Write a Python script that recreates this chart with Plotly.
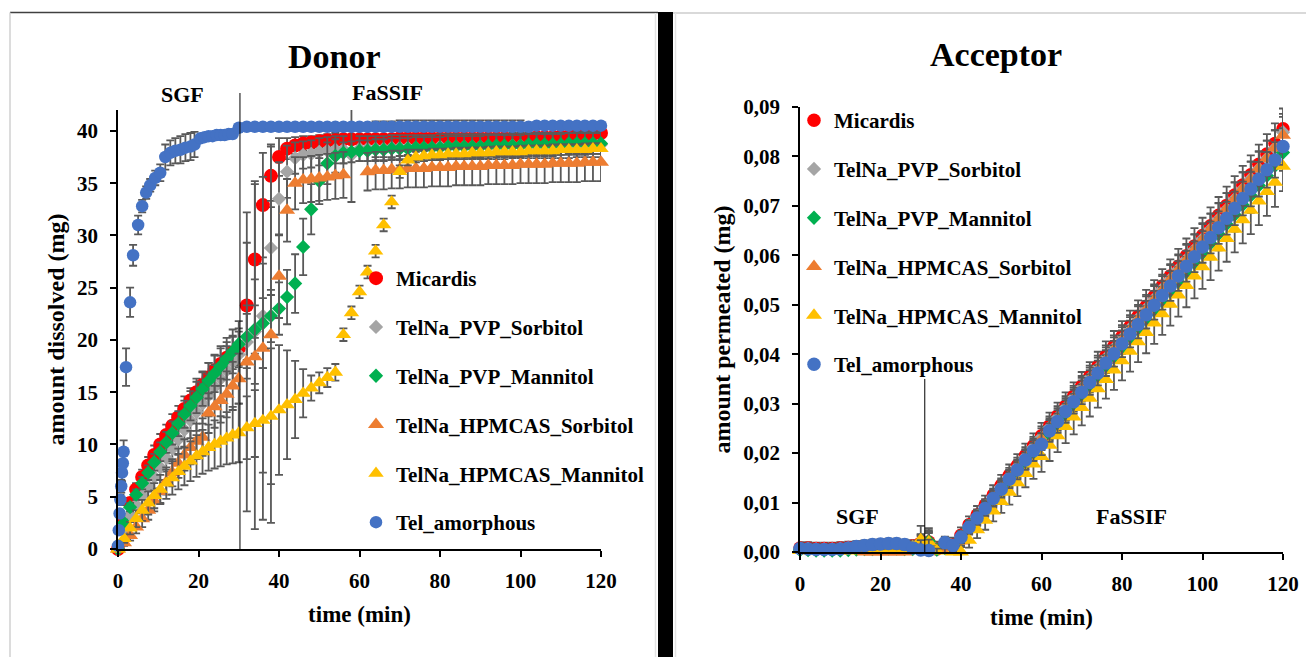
import plotly.graph_objects as go

W, H = 1306, 657

# ---------------- DONOR DATA (amount dissolved, mg) ----------------
t_early = [0, 1.5, 3, 4.5, 6, 7.5, 9, 10.5, 12, 13.5, 15, 16.5, 18, 19.5, 21, 22.5, 24, 25.5, 27, 28.5, 30]
t_late = [32, 34, 36, 38, 40, 42, 44, 46, 48, 50, 52, 54, 56, 58, 60, 62, 64, 66, 68, 70,
          72, 74, 76, 78, 80, 82, 84, 86, 88, 90, 92, 94, 96, 98, 100, 102, 104, 106, 108, 110,
          112, 114, 116, 118, 120]

red_e = [0, 2.7, 4.4, 5.7, 6.9, 8.0, 9.0, 10.0, 10.9, 11.8, 12.6, 13.4, 14.2, 15.0, 15.7, 16.4, 17.1, 17.7, 18.3, 18.8, 19.2]
red_late = [23.3, 27.7, 32.9, 35.7, 37.5, 38.3, 38.6, 38.8, 38.9, 39.0,
            39.1, 39.1, 39.2, 39.2, 39.2, 39.2, 39.2, 39.2, 39.2, 39.3,
            39.3, 39.3, 39.3, 39.3, 39.3, 39.3, 39.3, 39.3, 39.3, 39.3,
            39.3, 39.3, 39.3, 39.3, 39.3, 39.3, 39.4, 39.4, 39.4, 39.5,
            39.5, 39.6, 39.6, 39.7, 39.8]
red_err_e = [0, 0.3, 0.5, 0.6, 0.7, 0.8, 0.9, 1.0, 1.0, 1.1, 1.1, 1.2, 1.2, 1.3, 1.3, 1.4, 1.4, 1.5, 1.5, 1.6, 1.6]
red_err_late = [6.0, 7.5, 5.0, 3.0, 1.8, 1.0, 0.8, 0.7, 0.6, 0.6,
                0.6, 0.7, 0.8, 0.9, 1.0, 1.2, 1.7, 1.7, 1.7, 1.7,
                1.7, 1.7, 1.7, 1.7, 1.7, 1.7, 1.7, 1.7, 1.7, 1.7,
                1.7, 1.7, 1.7, 1.7, 1.7, 1.2, 1.0, 1.0, 1.0, 0.9,
                0.9, 0.8, 0.8, 0.7, 0.7]

gray_e = [0, 2.0, 3.2, 4.2, 5.1, 6.0, 6.9, 7.8, 8.7, 9.6, 10.5, 11.4, 12.3, 13.1, 13.9, 14.7, 15.5, 16.3, 17.1, 17.9, 18.6]
gray_late = [19.8, 20.8, 22.3, 28.8, 33.5, 36.1, 37.4, 37.7, 37.8, 38.0,
             38.1, 38.2, 38.2, 37.7, 38.3, 38.3, 38.3, 38.3, 38.4, 38.4,
             38.4, 38.4, 38.4, 38.4, 38.5, 38.5, 38.5, 38.5, 38.5, 38.5,
             38.5, 38.5, 38.5, 38.6, 38.6, 38.6, 38.6, 38.6, 38.6, 38.6,
             38.6, 38.7, 38.7, 38.7, 38.7]
gray_err_e = [0, 0.4, 0.6, 0.8, 0.9, 1.0, 1.1, 1.2, 1.3, 1.4, 1.5, 1.6, 1.7, 1.8, 1.9, 2.0, 2.1, 2.2, 2.3, 2.4, 2.5]
gray_err_late = [3.5, 5.0, 5.0, 4.5, 3.5, 2.5, 1.5, 1.3, 1.3, 1.3,
                 1.3, 1.3, 1.3, 4.5, 1.2, 1.2, 1.2, 1.2, 1.2, 1.2,
                 1.2, 1.2, 1.2, 1.2, 1.2, 1.2, 1.2, 1.2, 1.2, 1.2,
                 1.2, 1.2, 1.2, 1.2, 1.2, 1.2, 1.2, 1.2, 1.2, 1.2,
                 1.2, 1.2, 1.2, 1.2, 1.2]

green_e = [0, 2.5, 4.0, 5.2, 6.3, 7.3, 8.3, 9.3, 10.2, 11.1, 12.0, 12.9, 13.7, 14.5, 15.3, 16.1, 16.8, 17.5, 18.2, 18.9, 19.6]
green_late = [20.3, 21.0, 21.6, 22.3, 23.0, 24.1, 25.4, 28.9, 32.5, 35.2,
              36.9, 37.6, 37.9, 38.0, 38.1, 38.1, 38.2, 38.2, 38.3, 38.3,
              38.3, 38.4, 38.4, 38.4, 38.4, 38.5, 38.5, 38.5, 38.5, 38.5,
              38.6, 38.6, 38.6, 38.6, 38.6, 38.7, 38.7, 38.7, 38.7, 38.7,
              38.8, 38.8, 38.8, 38.8, 38.8]
green_err_e = [0, 0.3, 0.4, 0.5, 0.6, 0.7, 0.8, 0.9, 1.0, 1.1, 1.2, 1.3, 1.4, 1.5, 1.6, 1.7, 1.8, 1.9, 2.0, 2.1, 2.2]
green_err_late = [2.2, 2.3, 2.4, 2.5, 2.5, 2.6, 2.8, 2.7, 2.4, 2.2,
                  2.0, 1.6, 1.0, 1.0, 1.0, 1.0, 1.0, 1.0, 1.0, 1.0,
                  1.0, 1.0, 1.0, 1.0, 1.0, 1.0, 1.0, 1.0, 1.0, 1.0,
                  1.0, 1.0, 1.0, 1.0, 1.0, 1.0, 1.0, 1.0, 1.0, 1.0,
                  1.0, 1.0, 1.0, 1.0, 1.0]

orange_e = [0, 0.6, 1.3, 2.1, 2.9, 3.7, 4.6, 5.5, 6.4, 7.3, 8.2, 9.0, 9.7, 10.3, 10.7, 13.0, 13.6, 14.2, 14.8, 15.6, 16.3]
orange_late = [17.9, 18.4, 19.2, 20.5, 26.1, 32.4, 35.0, 35.3, 35.4, 35.5,
               35.6, 35.7, 35.8, None, None, 36.1, 36.2, 36.2, 36.3, 36.3,
               36.4, 36.4, 36.4, 36.5, 36.5, 36.5, 36.6, 36.6, 36.6, 36.6,
               36.7, 36.7, 36.7, 36.7, 36.8, 36.8, 36.8, 36.8, 36.9, 36.9,
               36.9, 36.9, 37.0, 37.0, 37.0]
orange_err_e = [0, 0.3, 0.5, 0.6, 0.8, 0.9, 1.0, 1.1, 1.2, 1.3, 1.4, 1.5, 1.6, 1.7, 1.8, 1.9, 2.0, 2.1, 2.2, 2.3, 2.4]
orange_err_late = [14.3, 16.5, 16.4, 18.0, 4.0, 3.0, 2.5, 2.2, 2.2, 2.2,
                   2.2, 2.2, 2.2, None, None, 1.8, 1.8, 1.8, 1.8, 1.8,
                   1.8, 1.8, 1.8, 1.8, 1.8, 1.8, 1.8, 1.8, 1.8, 1.8,
                   1.8, 1.8, 1.8, 1.8, 1.8, 1.8, 1.8, 1.8, 1.8, 1.8,
                   1.8, 1.8, 1.8, 1.8, 1.8]

yellow_e = [0, 1.0, 2.0, 2.9, 3.7, 4.4, 5.1, 5.7, 6.3, 6.8, 7.4, 7.9, 8.4, 8.9, 9.3, 9.7, 10.0, 10.3, 10.6, 10.9, 11.1]
yellow_late = [11.6, 12.0, 12.3, 12.7, 13.3, 13.8, 14.3, 14.9, 15.4, 15.9,
               16.4, 16.9, 20.5, 22.6, 24.6, 26.5, 28.5, 31.0, 33.2, 36.1,
               37.2, 37.5, 37.6, 37.7, 37.7, 37.8, 37.8, 37.8, 37.9, 37.9,
               37.9, 38.0, 38.0, 38.0, 38.0, 38.1, 38.1, 38.1, 38.1, 38.2,
               38.2, 38.2, 38.2, 38.3, 38.3]
yellow_err_e = [0, 0.4, 0.6, 0.8, 1.0, 1.1, 1.2, 1.4, 1.5, 1.6, 1.7, 1.8, 1.9, 2.0, 2.1, 2.2, 2.3, 2.4, 2.5, 2.7, 2.8]
yellow_err_late = [3.0, 3.2, 5.0, 6.5, 6.2, 5.2, 3.7, 2.3, 1.2, 1.0,
                   0.9, 0.8, 0.6, 0.6, 0.6, 0.6, 0.6, 0.6, 0.6, 0.6,
                   0.5, 0.5, 0.5, 0.5, 0.5, 0.5, 0.5, 0.5, 0.5, 0.5,
                   0.5, 0.5, 0.5, 0.5, 0.5, 0.5, 0.5, 0.5, 0.5, 0.5,
                   0.5, 0.5, 0.5, 0.5, 0.5]

t_blue_early = [0, 0.2, 0.4, 0.6, 0.8, 1.0, 1.2, 1.4, 2, 3, 3.75, 5, 6, 7, 8, 9.25, 10.5, 11.75,
                13, 14.25, 15.5, 16.75, 18, 19, 20.5, 21.5, 22.5, 23.5, 24.5, 25.5, 26.5, 27.5, 28.5, 30]
blue_e = [0.3, 1.8, 3.4, 4.7, 6.0, 7.3, 8.2, 9.3, 17.4, 23.6, 28.1, 31.0, 32.8, 34.1, 34.8, 35.5, 36.0, 37.5,
          37.9, 38.1, 38.2, 38.4, 38.5, 38.7, 39.3, 39.4, 39.5, 39.5, 39.6, 39.6, 39.6, 39.7, 39.7, 40.3]
blue_late = [40.4, 40.4, 40.4, 40.4, 40.4, 40.4, 40.4, 40.4, 40.4, 40.4,
             40.4, 40.4, 40.4, 40.4, 40.4, 40.4, 40.4, 40.4, 40.4, 40.4,
             40.4, 40.4, 40.4, 40.4, 40.4, 40.4, 40.4, 40.4, 40.4, 40.4,
             40.4, 40.4, 40.4, 40.4, 40.4, 40.4, 40.5, 40.5, 40.5, 40.5,
             40.5, 40.5, 40.5, 40.5, 40.5]
blue_err_e = [0.2, 0.3, 0.4, 0.5, 0.6, 0.8, 0.9, 1.1, 1.8, 1.4, 1.0, 0.9, 0.6, 0.6, 0.6, 0.7, 0.8, 1.2,
              1.2, 1.2, 1.3, 1.3, 1.3, 1.2, 0.3, 0.3, 0.3, 0.3, 0.3, 0.3, 0.3, 0.3, 0.3, 0.3]
blue_err_late = [0.3, 0.3, 0.3, 0.3, 0.3, 0.3, 0.3, 0.3, 0.3, 0.3,
                 0.3, 0.3, 0.3, 0.3, 0.3, 0.3, 0.3, 0.3, 0.3, 0.3,
                 0.3, 0.3, 0.3, 0.3, 0.3, 0.3, 0.3, 0.3, 0.3, 0.3,
                 0.3, 0.3, 0.3, 0.3, 0.3, 0.3, 0.3, 0.3, 0.3, 0.3,
                 0.3, 0.3, 0.3, 0.3, 0.3]

# ---------------- ACCEPTOR DATA (amount permeated, mg) ----------------
acc_t = [0, 2, 4, 6, 8, 10, 12, 14, 16, 18, 20, 22, 24, 26, 28, 30, 32, 34, 36, 38,
         40, 42, 44, 46, 48, 50, 52, 54, 56, 58, 60, 62, 64, 66, 68, 70, 72, 74, 76, 78,
         80, 82, 84, 86, 88, 90, 92, 94, 96, 98, 100, 102, 104, 106, 108, 110, 112, 114, 116, 118, 120]

acc_red = [0.0008, 0.0008, 0.0007, 0.0007, 0.0007, 0.0008, 0.0009, 0.0010, 0.0011, 0.0012,
           0.0012, 0.0013, 0.0013, 0.0012, 0.0012, 0.0018, 0.0020, 0.0006, 0.0010, 0.0014,
           0.0034, 0.0055, 0.0075, 0.0095, 0.0115, 0.0135, 0.0155, 0.0175, 0.0195, 0.0215,
           0.0235, 0.0255, 0.0275, 0.0295, 0.0315, 0.0335, 0.0355, 0.0375, 0.0396, 0.0416,
           0.0436, 0.0456, 0.0477, 0.0497, 0.0517, 0.0538, 0.0558, 0.0578, 0.0599, 0.0619,
           0.0640, 0.0660, 0.0681, 0.0701, 0.0722, 0.0742, 0.0763, 0.0784, 0.0805, 0.0826,
           0.0856]
acc_gray = [0.0007, 0.0007, 0.0006, 0.0006, 0.0006, 0.0007, 0.0008, 0.0009, 0.0010, 0.0011,
            0.0011, 0.0012, 0.0012, 0.0011, 0.0011, 0.0016, 0.0019, 0.0005, 0.0009, 0.0012,
            0.0031, 0.0052, 0.0072, 0.0092, 0.0112, 0.0132, 0.0152, 0.0172, 0.0192, 0.0212,
            0.0232, 0.0252, 0.0272, 0.0292, 0.0312, 0.0332, 0.0352, 0.0372, 0.0392, 0.0412,
            0.0432, 0.0452, 0.0472, 0.0492, 0.0512, 0.0532, 0.0552, 0.0572, 0.0592, 0.0612,
            0.0633, 0.0653, 0.0673, 0.0693, 0.0714, 0.0734, 0.0755, 0.0775, 0.0796, 0.0817,
            0.0849]
acc_green = [0.0004, 0.0004, 0.0003, 0.0003, 0.0003, 0.0003, 0.0004, 0.0005, 0.0006, 0.0006,
             0.0007, 0.0007, 0.0007, 0.0006, 0.0006, 0.0015, 0.0022, 0.0005, 0.0008, 0.0012,
             0.0026, 0.0048, 0.0067, 0.0086, 0.0105, 0.0124, 0.0143, 0.0162, 0.0181, 0.0200,
             0.0219, 0.0238, 0.0257, 0.0277, 0.0296, 0.0315, 0.0334, 0.0353, 0.0372, 0.0392,
             0.0411, 0.0430, 0.0449, 0.0469, 0.0488, 0.0507, 0.0527, 0.0546, 0.0566, 0.0585,
             0.0604, 0.0624, 0.0643, 0.0663, 0.0682, 0.0702, 0.0721, 0.0741, 0.0761, 0.0781,
             0.0808]
acc_orange = [-0.0001, -0.0001, -0.0002, -0.0002, -0.0002, -0.0002, -0.0001, -0.0001, 0.0000, 0.0000,
              0.0000, 0.0000, 0.0000, 0.0000, 0.0003, 0.0012, 0.0018, 0.0003, 0.0005, 0.0008,
              0.0022, 0.0049, 0.0069, 0.0089, 0.0109, 0.0129, 0.0148, 0.0168, 0.0188, 0.0208,
              0.0228, 0.0248, 0.0268, 0.0288, 0.0308, 0.0328, 0.0348, 0.0368, 0.0388, 0.0408,
              0.0428, 0.0448, 0.0469, 0.0489, 0.0509, 0.0529, 0.0550, 0.0570, 0.0590, 0.0611,
              0.0631, 0.0652, 0.0672, 0.0693, 0.0713, 0.0734, 0.0754, 0.0775, 0.0796, 0.0817,
              0.0843]
acc_yellow = [0.0003, 0.0002, 0.0002, 0.0001, 0.0001, 0.0002, 0.0002, 0.0003, 0.0003, 0.0003,
              0.0004, 0.0004, 0.0004, 0.0005, 0.0010, 0.0025, 0.0020, 0.0002, -0.0002, 0.0000,
              0.0000, 0.0024, 0.0045, 0.0064, 0.0083, 0.0102, 0.0121, 0.0140, 0.0159, 0.0178,
              0.0193, 0.0216, 0.0235, 0.0254, 0.0273, 0.0292, 0.0311, 0.0330, 0.0349, 0.0368,
              0.0387, 0.0406, 0.0425, 0.0444, 0.0463, 0.0482, 0.0501, 0.0520, 0.0539, 0.0558,
              0.0577, 0.0596, 0.0615, 0.0634, 0.0653, 0.0672, 0.0691, 0.0710, 0.0729, 0.0748,
              0.0780]
acc_blue = [0.0007, 0.0006, 0.0005, 0.0005, 0.0005, 0.0006, 0.0008, 0.0011, 0.0013, 0.0015,
            0.0016, 0.0017, 0.0017, 0.0015, 0.0008, 0.0004, 0.0003, -0.0005, 0.0019, 0.0013,
            0.0030, 0.0050, 0.0069, 0.0088, 0.0108, 0.0127, 0.0147, 0.0166, 0.0186, 0.0205,
            0.0218, 0.0245, 0.0264, 0.0284, 0.0304, 0.0323, 0.0343, 0.0362, 0.0382, 0.0401,
            0.0421, 0.0441, 0.0460, 0.0480, 0.0499, 0.0519, 0.0538, 0.0558, 0.0578, 0.0597,
            0.0617, 0.0636, 0.0656, 0.0675, 0.0695, 0.0715, 0.0734, 0.0754, 0.0773, 0.0793,
            0.0820]

acc_err_red = [0.0012, 0.0012, 0.0012, 0.0012, 0.0012, 0.0012, 0.0012, 0.0012, 0.0012, 0.0012,
               0.0012, 0.0012, 0.0012, 0.0012, 0.0012, 0.0015, 0.0018, 0.0015, 0.0015, 0.0015,
               0.0016, 0.0017, 0.0018, 0.0019, 0.0020, 0.0021, 0.0022, 0.0023, 0.0024, 0.0025,
               0.0026, 0.0027, 0.0027, 0.0028, 0.0028, 0.0029, 0.0029, 0.0030, 0.0030, 0.0031,
               0.0031, 0.0032, 0.0032, 0.0033, 0.0033, 0.0034, 0.0034, 0.0035, 0.0035, 0.0036,
               0.0036, 0.0037, 0.0037, 0.0038, 0.0038, 0.0039, 0.0039, 0.0040, 0.0040, 0.0041,
               0.0041]
acc_err_yellow = [0.0008, 0.0008, 0.0008, 0.0008, 0.0008, 0.0008, 0.0008, 0.0008, 0.0008, 0.0008,
                  0.0008, 0.0008, 0.0008, 0.0008, 0.0012, 0.0028, 0.0028, 0.0012, 0.0012, 0.0012,
                  0.0012, 0.0015, 0.0017, 0.0019, 0.0021, 0.0023, 0.0025, 0.0027, 0.0028, 0.0030,
                  0.0031, 0.0032, 0.0033, 0.0034, 0.0035, 0.0036, 0.0037, 0.0038, 0.0039, 0.0040,
                  0.0040, 0.0041, 0.0041, 0.0042, 0.0042, 0.0043, 0.0043, 0.0044, 0.0044, 0.0045,
                  0.0045, 0.0046, 0.0046, 0.0047, 0.0047, 0.0048, 0.0048, 0.0049, 0.0049, 0.0050,
                  0.0050]
acc_err_mid = [0.0010, 0.0010, 0.0010, 0.0010, 0.0010, 0.0010, 0.0010, 0.0010, 0.0010, 0.0010,
               0.0010, 0.0010, 0.0010, 0.0010, 0.0010, 0.0020, 0.0022, 0.0012, 0.0012, 0.0012,
               0.0012, 0.0013, 0.0014, 0.0015, 0.0016, 0.0017, 0.0018, 0.0019, 0.0020, 0.0021,
               0.0022, 0.0022, 0.0023, 0.0023, 0.0024, 0.0024, 0.0025, 0.0025, 0.0026, 0.0026,
               0.0027, 0.0027, 0.0028, 0.0028, 0.0029, 0.0029, 0.0030, 0.0030, 0.0031, 0.0031,
               0.0032, 0.0032, 0.0033, 0.0033, 0.0034, 0.0034, 0.0035, 0.0035, 0.0036, 0.0036,
               0.0037]

names = ["Micardis", "TelNa_PVP_Sorbitol", "TelNa_PVP_Mannitol",
         "TelNa_HPMCAS_Sorbitol", "TelNa_HPMCAS_Mannitol", "Tel_amorphous"]
colors = ["#FF0000", "#A5A5A5", "#00B050", "#ED7D31", "#FFC000", "#4472C4"]
symbols = ["circle", "diamond", "diamond", "triangle-up", "triangle-up", "circle"]
donor_sizes = [14, 11, 11, 14, 13.5, 12.5]
acc_sizes = [13.5, 11, 11, 14, 14, 13.5]

t_main = t_early + t_late
donor_x = [t_main, t_main, t_main, t_main, t_main, t_blue_early + t_late]
donor_y = [red_e + red_late, gray_e + gray_late, green_e + green_late,
           orange_e + orange_late, yellow_e + yellow_late, blue_e + blue_late]
donor_err = [red_err_e + red_err_late, gray_err_e + gray_err_late, green_err_e + green_err_late,
             orange_err_e + orange_err_late, yellow_err_e + yellow_err_late, blue_err_e + blue_err_late]
acc_y = [acc_red, acc_gray, acc_green, acc_orange, acc_yellow, acc_blue]
acc_err = [acc_err_red, acc_err_mid, acc_err_mid, acc_err_mid, acc_err_yellow, acc_err_mid]

for xs, ys, es in zip(donor_x, donor_y, donor_err):
    assert len(xs) == len(ys) == len(es), (len(xs), len(ys), len(es))
for ys, es in zip(acc_y, acc_err):
    assert len(acc_t) == len(ys) == len(es), (len(ys), len(es))

SERIF = "Liberation Serif, Times New Roman, serif"
ERR_COLOR = "#595959"

fig = go.Figure()

for i in range(6):
    fig.add_trace(go.Scatter(
        x=donor_x[i], y=donor_y[i], name=names[i], mode="markers",
        marker=dict(symbol=symbols[i], size=donor_sizes[i], color=colors[i], line=dict(width=0)),
        error_y=dict(type="data", array=donor_err[i], color=ERR_COLOR, thickness=1.8, width=4),
        xaxis="x", yaxis="y", legend="legend", legendgroup="d%d" % i, cliponaxis=False,
    ))

for i in range(6):
    fig.add_trace(go.Scatter(
        x=acc_t, y=acc_y[i], name=names[i], mode="markers",
        marker=dict(symbol=symbols[i], size=acc_sizes[i], color=colors[i], line=dict(width=0)),
        error_y=dict(type="data", array=acc_err[i], color=ERR_COLOR, thickness=1.8, width=4),
        xaxis="x2", yaxis="y2", legend="legend2", legendgroup="a%d" % i, cliponaxis=False,
    ))

tickfont = dict(family=SERIF, size=21, color="black", weight="bold")
axis_common = dict(showline=True, linecolor="black", linewidth=1.5, ticks="outside",
                   ticklen=6, tickwidth=1.5, tickcolor="black", showgrid=False, zeroline=False,
                   tickfont=tickfont, automargin=False)

fig.update_layout(
    width=W, height=H, margin=dict(l=0, r=0, t=0, b=0),
    paper_bgcolor="white", plot_bgcolor="white",
    separators=",.",
    showlegend=True,
    xaxis=dict(domain=[118 / W, 601 / W], range=[0, 120], dtick=20, anchor="y",
               title=dict(text="time (min)", font=dict(family=SERIF, size=23, color="black", weight="bold"), standoff=14),
               ticklabelstandoff=6, **axis_common),
    yaxis=dict(domain=[1 - 549 / H, 1 - 110 / H], range=[0, 42], dtick=5, anchor="x",
               title=dict(text="amount dissolved (mg)", font=dict(family=SERIF, size=24, color="black", weight="bold"), standoff=6),
               ticklabelstandoff=8, **axis_common),
    xaxis2=dict(domain=[800 / W, 1283 / W], range=[0, 120], dtick=20, anchor="y2",
                title=dict(text="time (min)", font=dict(family=SERIF, size=23, color="black", weight="bold"), standoff=14),
                ticklabelstandoff=6, **axis_common),
    yaxis2=dict(domain=[1 - 552 / H, 1 - 107 / H], range=[0, 0.09], dtick=0.01, tickformat=".2f", anchor="x2",
                title=dict(text="amount permeated (mg)", font=dict(family=SERIF, size=24, color="black", weight="bold"), standoff=6),
                ticklabelstandoff=8, **axis_common),
    legend=dict(x=356 / W, y=1 - 258 / H, xanchor="left", yanchor="top",
                font=dict(family=SERIF, size=21, color="black", weight="bold"),
                bgcolor="rgba(0,0,0,0)", traceorder="grouped", tracegroupgap=18.5,
                itemsizing="trace", itemclick=False, itemdoubleclick=False),
    legend2=dict(x=794 / W, y=1 - 100 / H, xanchor="left", yanchor="top",
                 font=dict(family=SERIF, size=21, color="black", weight="bold"),
                 bgcolor="rgba(0,0,0,0)", traceorder="grouped", tracegroupgap=18.5,
                 itemsizing="trace", itemclick=False, itemdoubleclick=False),
)

def ann(text, px, py, size):
    return dict(text=text, xref="paper", yref="paper", x=px / W, y=1 - py / H,
                xanchor="center", yanchor="middle", showarrow=False,
                font=dict(family=SERIF, size=size, color="black", weight="bold"))

fig.update_layout(annotations=[
    ann("Donor", 334, 56, 34),
    ann("Acceptor", 996, 55, 34),
    ann("SGF", 182, 95, 22),
    ann("FaSSIF", 387, 92, 22),
    ann("SGF", 857, 516, 22),
    ann("FaSSIF", 1131, 516, 22),
])

fig.update_layout(shapes=[
    dict(type="line", xref="paper", yref="paper", x0=10 / W, x1=658 / W, y0=1 - 12.5 / H, y1=1 - 12.5 / H,
         line=dict(color="#404040", width=1.5)),
    dict(type="line", xref="paper", yref="paper", x0=10 / W, x1=10 / W, y0=0, y1=1 - 12.5 / H,
         line=dict(color="#D0D0D0", width=1.5)),
    dict(type="line", xref="paper", yref="paper", x0=673 / W, x1=1, y0=1 - 13 / H, y1=1 - 13 / H,
         line=dict(color="#D9D9D9", width=2)),
    dict(type="line", xref="paper", yref="paper", x0=655.5 / W, x1=655.5 / W, y0=0, y1=1 - 13 / H,
         line=dict(color="#E3E3E3", width=1.5)),
    dict(type="line", xref="paper", yref="paper", x0=675.5 / W, x1=675.5 / W, y0=0, y1=1 - 13 / H,
         line=dict(color="#E3E3E3", width=1.5)),
    dict(type="rect", xref="paper", yref="paper", x0=658 / W, x1=673 / W, y0=0, y1=1 - 12 / H,
         fillcolor="black", line=dict(width=0)),
    dict(type="line", xref="x", yref="paper", x0=30.3, x1=30.3, y0=1 - 549 / H, y1=1 - 93 / H,
         line=dict(color="black", width=1)),
    dict(type="line", xref="x2", yref="y2", x0=31, x1=31, y0=0, y1=0.035,
         line=dict(color="black", width=1)),
])

fig.write_html("out.html", include_plotlyjs=True, full_html=True,
               config={"displayModeBar": False},
               post_script="document.body.style.margin='0';")
